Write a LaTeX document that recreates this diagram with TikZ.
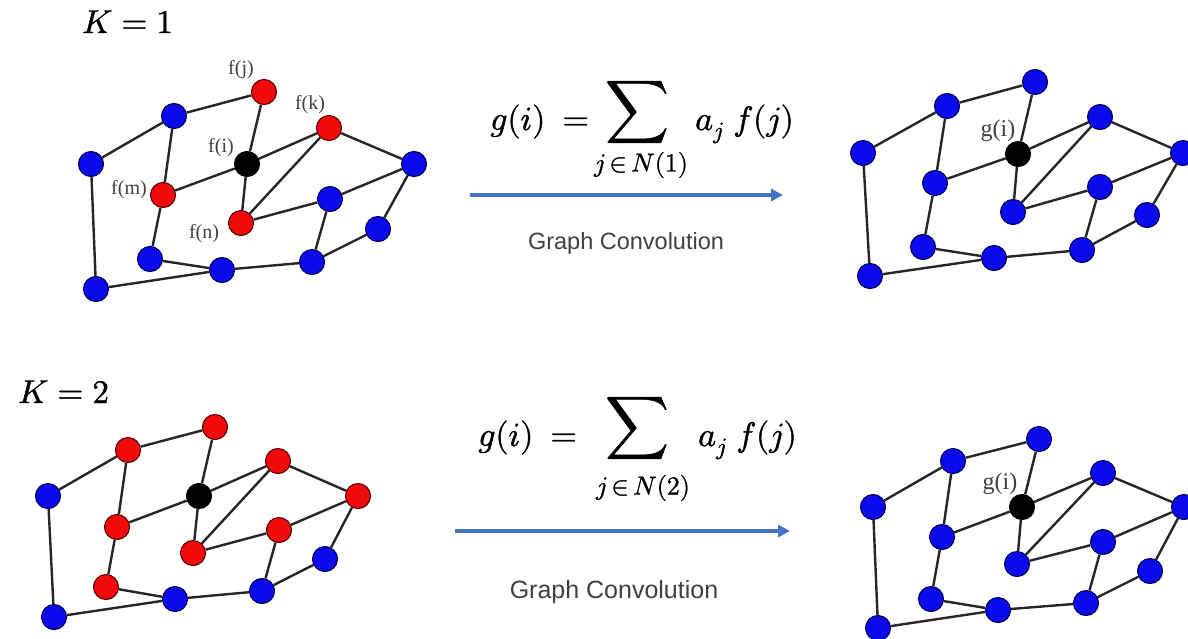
\documentclass[tikz,border=0pt]{standalone}
\usepackage{fontspec}
\usepackage{unicode-math}
\setmathfont{Latin Modern Math}[FakeBold=1.2]
\newfontfamily\seriflab{Liberation Serif}
\newfontfamily\sanslab{Liberation Sans}
\usetikzlibrary{arrows.meta}
\definecolor{nblue}{RGB}{10,10,235}
\definecolor{nred}{RGB}{240,10,10}
\definecolor{arrowblue}{RGB}{68,114,196}
\definecolor{txtgray}{RGB}{64,64,64}
\begin{document}
\begin{tikzpicture}[x=1pt,y=-1pt,
  vtx/.style={circle,minimum size=25pt,inner sep=0pt,line width=1.1pt},
  bv/.style={vtx,fill=nblue,draw=blue!35!black},
  rv/.style={vtx,fill=nred,draw=red!35!black},
  kv/.style={vtx,fill=black,draw=black},
  edge/.style={line width=2.4pt,draw=black!85},
  flabel/.style={font=\seriflab\fontsize{20}{22}\selectfont,text=black!75,inner sep=0pt},
  glabel/.style={font=\seriflab\fontsize{24}{26}\selectfont,text=black!75,inner sep=0pt},
  convarrow/.style={line width=3.4pt,draw=arrowblue,-{Triangle[length=12pt,width=12pt]}},
  convtext/.style={font=\sanslab\fontsize{23.5}{26}\selectfont,text=txtgray,inner sep=0pt},
  convtextb/.style={font=\sanslab\fontsize{25}{28}\selectfont,text=txtgray,inner sep=0pt},
  mtext/.style={font=\fontsize{34}{40}\selectfont,inner sep=0pt,anchor=base west},
  ktext/.style={font=\fontsize{33}{38}\selectfont,inner sep=0pt,anchor=base west},
  sumtext/.style={font=\fontsize{44}{50}\selectfont,inner sep=0pt},
  subtext/.style={font=\fontsize{26}{30}\selectfont,inner sep=0pt},
]
\useasboundingbox (0,0) rectangle (1188,638);

% ---------- graph 1 (K=1, input) ----------
\node[bv] (g1A) at (91,164) {};
\node[bv] (g1B) at (174,116) {};
\node[rv] (g1J) at (264,92) {};
\node[rv] (g1K) at (329,128) {};
\node[kv] (g1I) at (247,164) {};
\node[bv] (g1R) at (414,164) {};
\node[rv] (g1M) at (163,195) {};
\node[rv] (g1N) at (241,223) {};
\node[bv] (g1P) at (330,199) {};
\node[bv] (g1Q) at (378,229) {};
\node[bv] (g1S) at (150,259) {};
\node[bv] (g1T) at (222,270) {};
\node[bv] (g1U) at (312,262) {};
\node[bv] (g1V) at (96,289) {};
\node[flabel] (l1j) at (241,70) {f(j)};
\node[flabel] (l1k) at (310,105) {f(k)};
\node[flabel] (l1i) at (221,148) {f(i)};
\node[flabel] (l1m) at (129,190) {f(m)};
\node[flabel] (l1n) at (204,234) {f(n)};

% ---------- graph 2 (K=1, output) ----------
\node[bv] (g2A) at (863,153) {};
\node[bv] (g2B) at (947,106) {};
\node[bv] (g2J) at (1035,82) {};
\node[bv] (g2K) at (1100,117) {};
\node[kv] (g2I) at (1018,154) {};
\node[bv] (g2R) at (1183,153) {};
\node[bv] (g2M) at (935,183) {};
\node[bv] (g2N) at (1013,212) {};
\node[bv] (g2P) at (1100,187) {};
\node[bv] (g2Q) at (1147,215) {};
\node[bv] (g2S) at (923,247) {};
\node[bv] (g2T) at (994,258) {};
\node[bv] (g2U) at (1082,250) {};
\node[bv] (g2V) at (870,276) {};
\node[glabel] (l2g) at (998,131) {g(i)};

% ---------- graph 3 (K=2, input) ----------
\node[bv] (g3A) at (48,496) {};
\node[rv] (g3B) at (128,450) {};
\node[rv] (g3J) at (215,427) {};
\node[rv] (g3K) at (278,461) {};
\node[kv] (g3I) at (199,496) {};
\node[rv] (g3R) at (358,496) {};
\node[rv] (g3M) at (117,527) {};
\node[rv] (g3N) at (193,553) {};
\node[rv] (g3P) at (279,530) {};
\node[bv] (g3Q) at (325,559) {};
\node[rv] (g3S) at (106,587) {};
\node[bv] (g3T) at (175,599) {};
\node[bv] (g3U) at (262,591) {};
\node[bv] (g3V) at (54,617) {};

% ---------- graph 4 (K=2, output) ----------
\node[bv] (g4A) at (873,507) {};
\node[bv] (g4B) at (953,461) {};
\node[bv] (g4J) at (1039,439) {};
\node[bv] (g4K) at (1103,473) {};
\node[kv] (g4I) at (1022,507) {};
\node[bv] (g4R) at (1184,507) {};
\node[bv] (g4M) at (942,537) {};
\node[bv] (g4N) at (1017,564) {};
\node[bv] (g4P) at (1103,542) {};
\node[bv] (g4Q) at (1150,571) {};
\node[bv] (g4S) at (931,599) {};
\node[bv] (g4T) at (998,610) {};
\node[bv] (g4U) at (1086,603) {};
\node[bv] (g4V) at (878,628) {};
\node[glabel] (l4g) at (1000,484) {g(i)};

% ---------- edges ----------
\foreach \g in {1,2,3,4}{
  \foreach \u/\v in {A/B,B/J,A/V,B/M,J/I,I/K,I/M,I/N,K/N,K/R,R/P,P/N,R/Q,M/S,S/T,T/V,T/U,U/P,U/Q}
    \draw[edge] (g\g\u) -- (g\g\v);
}

% ---------- K labels ----------
\node[ktext] (k1) at (82,33) {$K=1$};
\node[ktext] (k2) at (18,403) {$K=2$};

% ---------- formulas ----------
\node[mtext] (f1l) at (490,130) {$g(i)\:=$};
\node[sumtext] (f1s) at (637,112) {$\displaystyle\sum$};
\node[subtext] (f1b) at (641,165) {$j\,{\in}\,N(1)$};
\node[mtext] (f1r) at (695,130) {$a_j\;f(j)$};

\node[mtext] (f2l) at (478,446) {$g(i)\:=$};
\node[sumtext] (f2s) at (637,428) {$\displaystyle\sum$};
\node[subtext] (f2b) at (643,488) {$j\,{\in}\,N(2)$};
\node[mtext] (f2r) at (698,446) {$a_j\;f(j)$};

% ---------- arrows ----------
\coordinate (a1s) at (470,195);
\coordinate (a1e) at (783,195);
\draw[convarrow] (a1s) -- (a1e);
\node[convtext] (c1) at (626,243) {Graph Convolution};

\coordinate (a2s) at (455,531);
\coordinate (a2e) at (790,531);
\draw[convarrow] (a2s) -- (a2e);
\node[convtextb] (c2) at (614,592) {Graph Convolution};
\end{tikzpicture}
\end{document}
